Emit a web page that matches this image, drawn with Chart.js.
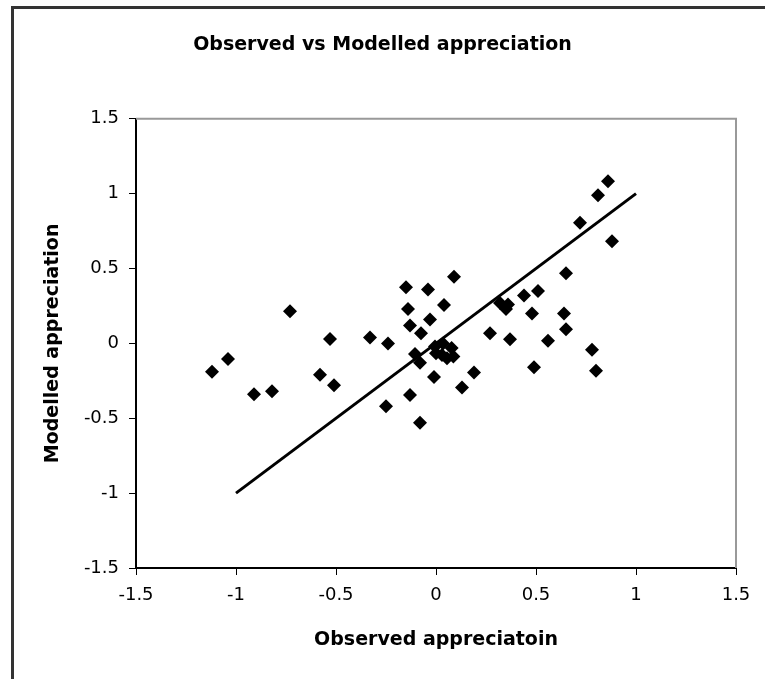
<!DOCTYPE html>
<html>
<head>
<meta charset="utf-8">
<script src="https://cdn.jsdelivr.net/npm/chart.js@4/dist/chart.umd.min.js"></script>
<style>
    html, body { margin: 0; padding: 0; background: #fff; }
    #wrap { position: relative; width: 765px; height: 679px; overflow: hidden; }
    #frame {
        position: absolute; left: 11px; top: 6px; width: 800px; height: 700px;
        border-left: 3px solid #333; border-top: 3px solid #333;
    }
    canvas { position: absolute; left: 0; top: 0; }
</style>
</head>
<body>
<div id="wrap">
    <div id="frame"></div>
    <canvas id="chart" width="765" height="679"></canvas>
</div>
<script>
// observed vs modelled values
const observed = [
    -1.12, -1.04, -0.91, -0.82, -0.73, -0.53, -0.58, -0.51, -0.33, -0.24,
    -0.25, -0.13, -0.08, -0.15, -0.04, -0.14, 0.04, -0.03, -0.13, -0.075,
    -0.105, -0.08, -0.01, 0.09, -0.005, 0.035, 0.03, 0.078, 0.087, 0.055,
    0.0, 0.32, 0.36, 0.35, 0.44, 0.51, 0.48, 0.64, 0.65, 0.27,
    0.37, 0.56, 0.78, 0.80, 0.49, 0.19, 0.13, 0.65, 0.72, 0.81,
    0.86, 0.88,
];
const modelled = [
    -0.19, -0.105, -0.34, -0.32, 0.215, 0.03, -0.21, -0.28, 0.04, 0.0,
    -0.42, -0.345, -0.53, 0.375, 0.36, 0.23, 0.257, 0.16, 0.12, 0.068,
    -0.07, -0.13, -0.225, 0.445, -0.02, 0.0, -0.077, -0.03, -0.088, -0.1,
    -0.065, 0.27, 0.26, 0.23, 0.32, 0.35, 0.2, 0.2, 0.095, 0.068,
    0.028, 0.017, -0.043, -0.183, -0.16, -0.195, -0.295, 0.468, 0.805, 0.99,
    1.083, 0.683,
];
const fitX = [-1, 1];
const fitY = [-1, 1];
const tickValues = [-1.5, -1, -0.5, 0, 0.5, 1, 1.5];

const points = observed.map((x, i) => ({ x, y: modelled[i] }));
const fitLine = fitX.map((x, i) => ({ x, y: fitY[i] }));

// gray top and right edges of the plot area
const plotEdge = {
    id: 'plotEdge',
    beforeDatasetsDraw(chart) {
        const { ctx, chartArea: a } = chart;
        ctx.save();
        ctx.strokeStyle = '#999';
        ctx.lineWidth = 2;
        ctx.beginPath();
        ctx.moveTo(a.left, a.top);
        ctx.lineTo(a.right, a.top);
        ctx.lineTo(a.right, a.bottom);
        ctx.stroke();
        ctx.restore();
    },
};

const tickFont = { family: 'DejaVu Sans', size: 18 };
const axisTitleFont = { family: 'DejaVu Sans', size: 19, weight: 'bold' };

new Chart(document.getElementById('chart'), {
    type: 'scatter',
    data: {
        datasets: [
            {
                label: 'Points',
                data: points,
                pointStyle: 'rectRot',
                pointRadius: 7,
                backgroundColor: '#000',
                borderWidth: 0,
            },
            {
                type: 'line',
                label: 'Fit',
                data: fitLine,
                borderColor: '#000',
                borderWidth: 3,
                pointRadius: 0,
                fill: false,
            },
        ],
    },
    options: {
        responsive: false,
        animation: false,
        layout: {
            padding: 0,
        },
        plugins: {
            legend: { display: false },
            tooltip: { enabled: false },
            title: {
                display: true,
                text: 'Observed vs Modelled appreciation',
                color: '#000',
                font: { family: 'DejaVu Sans', size: 19, weight: 'bold' },
                padding: { top: 34, bottom: 62 },
            },
        },
        scales: {
            x: {
                type: 'linear',
                min: -1.5,
                max: 1.5,
                afterFit(scale) {
                    scale.height = 111;
                },
                afterBuildTicks(scale) {
                    scale.ticks = tickValues.map((v) => ({ value: v }));
                },
                ticks: {
                    color: '#000',
                    font: tickFont,
                    padding: 10,
                    maxRotation: 0,
                    callback: (v) => String(v),
                },
                grid: {
                    drawOnChartArea: false,
                    tickLength: 7,
                    color: '#000',
                },
                border: { color: '#000', width: 2 },
                title: {
                    display: true,
                    text: 'Observed appreciatoin',
                    color: '#000',
                    font: axisTitleFont,
                    padding: { top: 0, bottom: 28 },
                },
            },
            y: {
                type: 'linear',
                min: -1.5,
                max: 1.5,
                afterFit(scale) {
                    scale.width = 136;
                },
                afterBuildTicks(scale) {
                    scale.ticks = tickValues.map((v) => ({ value: v }));
                },
                ticks: {
                    color: '#000',
                    font: tickFont,
                    padding: 10,
                    callback: (v) => String(v),
                },
                grid: {
                    drawOnChartArea: false,
                    tickLength: 7,
                    color: '#000',
                },
                border: { color: '#000', width: 2 },
                title: {
                    display: true,
                    text: 'Modelled appreciation',
                    color: '#000',
                    font: axisTitleFont,
                    padding: { top: 42, bottom: 0 },
                },
            },
            // empty right margin, keeps the plot area at the same spot
            spacer: {
                type: 'linear',
                position: 'right',
                display: true,
                min: -1.5,
                max: 1.5,
                afterFit(scale) {
                    scale.width = 29;
                },
                ticks: { display: false },
                grid: { display: false },
                border: { display: false },
            },
        },
    },
    plugins: [plotEdge],
});
</script>
</body>
</html>
